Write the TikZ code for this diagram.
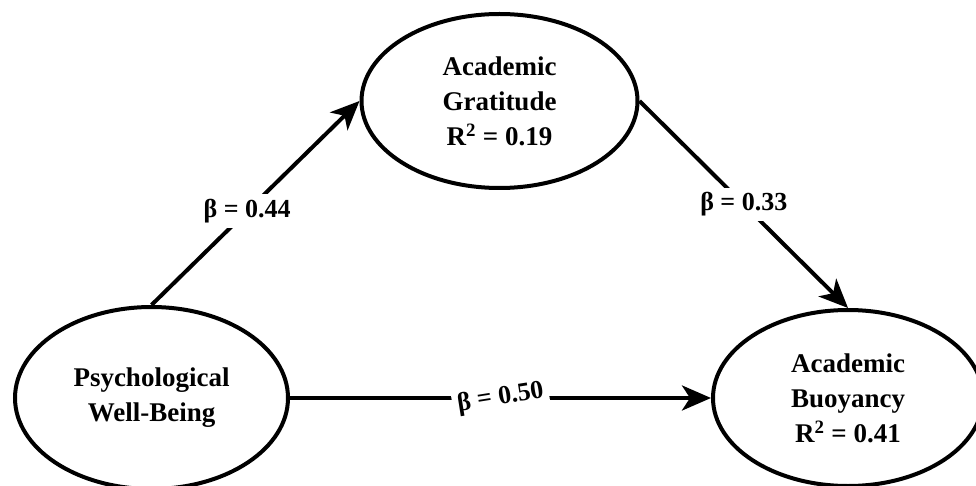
\documentclass[tikz,border=0pt]{standalone}
\usepackage{fontspec}
\setmainfont{Liberation Serif}
\usetikzlibrary{shapes.geometric,arrows.meta}
\tikzset{
  latent/.style={ellipse, draw=black, line width=4pt, inner sep=0pt, align=center,
    font=\fontsize{27}{35}\selectfont\bfseries},
  path/.style={line width=4pt, -{Stealth[length=29pt,width=25pt,inset=8pt]}},
  coef/.style={fill=white, inner sep=5pt, font=\fontsize{26}{28}\selectfont\bfseries}
}
\begin{document}
\begin{tikzpicture}[x=1pt,y=-1pt]
\useasboundingbox[fill=white] (0,0) rectangle (976,486);
\node[latent, minimum width=276pt, minimum height=174pt] (T) at (499.5,101)
  {Academic\\Gratitude\\R\textsuperscript{2} = 0.19};
\node[latent, minimum width=273pt, minimum height=182pt] (L) at (151.5,398)
  {Psychological\\Well-Being};
\node[latent, minimum width=270pt, minimum height=176pt] (R) at (848,398)
  {Academic\\Buoyancy\\R\textsuperscript{2} = 0.41};
\draw[path] (L.north) -- node[coef, pos=0.46] (b1) {β = 0.44} (T.west);
\draw[path] (T.east) -- node[coef, pos=0.5] (b2) {β = 0.33} (R.north);
\draw[path] (L.east) -- node[coef, pos=0.5, rotate=9] (b3) {β = 0.50} (R.west);
\end{tikzpicture}
\end{document}
